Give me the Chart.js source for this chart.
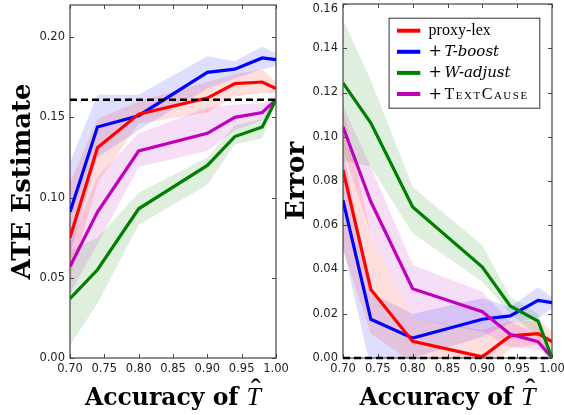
<!DOCTYPE html>
<html><head><meta charset="utf-8">
<script src="https://cdn.jsdelivr.net/npm/chart.js@4"></script>
<style>
html,body{margin:0;padding:0;background:#fff;}
#wrap{position:relative;width:564px;height:415px;overflow:hidden;background:#fff;}
.pane{position:absolute;top:0;height:415px;}
</style></head><body>
<div id="wrap">
  <div class="pane" style="left:0;width:300px"><canvas id="ate"></canvas></div>
  <div class="pane" style="left:282px;width:282px"><canvas id="err"></canvas></div>
</div>
<script>
// ---------- data ----------
const accuracy = [0.70, 0.74, 0.80, 0.90, 0.94, 0.98, 1.00];
const xTicks = [0.70, 0.75, 0.80, 0.85, 0.90, 0.95, 1.00];
const ateTicks = [0.00, 0.05, 0.10, 0.15, 0.20];
const errTicks = [0.00, 0.02, 0.04, 0.06, 0.08, 0.10, 0.12, 0.14, 0.16];

const seriesNames = ['proxy-lex', 'T-boost', 'W-adjust', 'TextCause'];
const seriesColors = ['#ff0000', '#0000ff', '#008000', '#bf00bf'];
const seriesOrder = [3, 4, 1, 2];

// ATE estimate (left panel)
const ateProxyLex      = [0.075, 0.131, 0.152, 0.162, 0.171, 0.172, 0.168];
const ateProxyLexLow   = [0.050, 0.109, 0.146, 0.153, 0.163, 0.165, 0.165];
const ateProxyLexHigh  = [0.109, 0.149, 0.160, 0.172, 0.177, 0.180, 0.172];
const ateTBoost        = [0.091, 0.144, 0.151, 0.178, 0.180, 0.187, 0.186];
const ateTBoostLow     = [0.065, 0.125, 0.142, 0.168, 0.174, 0.180, 0.182];
const ateTBoostHigh    = [0.122, 0.164, 0.164, 0.188, 0.185, 0.194, 0.190];
const ateWAdjust       = [0.037, 0.055, 0.093, 0.120, 0.138, 0.144, 0.161];
const ateWAdjustLow    = [0.008, 0.034, 0.083, 0.108, 0.133, 0.137, 0.160];
const ateWAdjustHigh   = [0.067, 0.075, 0.103, 0.125, 0.145, 0.149, 0.162];
const ateTextCause     = [0.057, 0.091, 0.129, 0.140, 0.150, 0.153, 0.161];
const ateTextCauseLow  = [0.040, 0.071, 0.119, 0.129, 0.142, 0.148, 0.160];
const ateTextCauseHigh = [0.071, 0.113, 0.140, 0.156, 0.158, 0.159, 0.162];
const trueAte = 0.161;

// Error (right panel)
const errProxyLex      = [0.085, 0.031, 0.0075, 0.0005, 0.010, 0.011, 0.0074];
const errProxyLexLow   = [0.049, 0.011, -0.002, -0.010, 0.0045, 0.006, 0.003];
const errProxyLexHigh  = [0.112, 0.056, 0.018, 0.0126, 0.0165, 0.017, 0.012];
const errTBoost        = [0.0713, 0.0175, 0.009, 0.0175, 0.019, 0.026, 0.025];
const errTBoostLow     = [0.050, -0.005, 0.000, 0.0096, 0.0158, 0.018, 0.0225];
const errTBoostHigh    = [0.095, 0.0293, 0.020, 0.027, 0.023, 0.032, 0.0275];
const errWAdjust       = [0.1243, 0.1062, 0.0683, 0.0411, 0.0235, 0.0167, 0.000];
const errWAdjustLow    = [0.0894, 0.0864, 0.0564, 0.0345, 0.020, 0.0096, 0.000];
const errWAdjustHigh   = [0.153, 0.1255, 0.0773, 0.051, 0.0277, 0.020, 0.002];
const errTextCause     = [0.1044, 0.0706, 0.0313, 0.0209, 0.0107, 0.0074, 0.000];
const errTextCauseLow  = [0.094, 0.0563, 0.018, 0.0119, 0.005, 0.0036, 0.000];
const errTextCauseHigh = [0.114, 0.0864, 0.042, 0.030, 0.0165, 0.0104, 0.000];
const zeroError = 0.0;

const ateTitle = 'ATE Estimate';
const errTitle = 'Error';
const xTitleMain = 'Accuracy of ';
const xTitleVar = 'T';
const xTitleHat = '\u02C6';
const legendPrefix = ['', '+', '+', '+'];
const legendStyle = ['roman', 'italic', 'italic', 'smallcaps'];

// ---------- helpers ----------
const TICK_FONT = { family: '"DejaVu Sans"', size: 11.5 };
function fmt(v) { return Number(v).toFixed(2); }
function pts(ys) { return accuracy.map((x, i) => ({ x: x, y: ys[i] })); }
function rgba(hex, a) {
  const n = parseInt(hex.slice(1), 16);
  return `rgba(${(n >> 16) & 255},${(n >> 8) & 255},${n & 255},${a})`;
}
function buildDatasets(means, lows, highs, refValue) {
  const ds = [];
  for (let k = 0; k < means.length; k++) {
    const base = ds.length;
    ds.push({ data: pts(lows[k]), borderWidth: 0, pointRadius: 0, fill: false, order: 20 });
    ds.push({ data: pts(highs[k]), borderWidth: 0, pointRadius: 0, fill: base,
              backgroundColor: rgba(seriesColors[k], 0.13), order: 20 });
  }
  for (let k = 0; k < means.length; k++) {
    ds.push({ label: seriesNames[k], data: pts(means[k]), borderColor: seriesColors[k],
              borderWidth: 3.2, pointRadius: 0, fill: false, order: seriesOrder[k],
              borderJoinStyle: 'miter' });
  }
  ds.push({ data: [{ x: xTicks[0], y: refValue }, { x: xTicks[xTicks.length - 1], y: refValue }],
            borderColor: '#000', borderWidth: 2.5, borderDash: [7, 4], pointRadius: 0,
            fill: false, order: 0, clip: 4 });
  return ds;
}

const frameTicks = {
  id: 'frameTicks',
  beforeDatasetsDraw(chart) {
    const { ctx, chartArea: a, scales: { x, y } } = chart;
    ctx.save();
    ctx.strokeStyle = '#444';
    ctx.lineWidth = 1;
    ctx.beginPath();
    x.ticks.forEach(t => {
      const px = Math.round(x.getPixelForValue(t.value)) + 0.5;
      ctx.moveTo(px, a.bottom); ctx.lineTo(px, a.bottom - 4);
      ctx.moveTo(px, a.top); ctx.lineTo(px, a.top + 4);
    });
    y.ticks.forEach(t => {
      const py = Math.round(y.getPixelForValue(t.value)) + 0.5;
      ctx.moveTo(a.left, py); ctx.lineTo(a.left + 4, py);
      ctx.moveTo(a.right, py); ctx.lineTo(a.right - 4, py);
    });
    ctx.stroke();
    ctx.lineWidth = 1.2;
    ctx.strokeRect(a.left, a.top, a.right - a.left, a.bottom - a.top);
    ctx.restore();
  }
};

// top y-tick label of the error panel: drawn slightly below its tick so it stays inside the canvas
const topLabelPlugin = {
  id: 'topLabelPlugin',
  afterDraw(chart) {
    const { ctx, scales: { y } } = chart;
    const v = y.max;
    ctx.save();
    ctx.font = `${TICK_FONT.size}px ${TICK_FONT.family}`;
    ctx.fillStyle = '#222';
    ctx.textAlign = 'right';
    ctx.textBaseline = 'middle';
    ctx.fillText(fmt(v), y.right - 5, y.getPixelForValue(v) + 5);
    ctx.restore();
  }
};

const xTitlePlugin = {
  id: 'xTitlePlugin',
  afterDraw(chart) {
    const { ctx, chartArea: a } = chart;
    ctx.save();
    ctx.fillStyle = '#000';
    ctx.textBaseline = 'alphabetic';
    const f1 = 'bold 23.5px "DejaVu Serif"';
    const f2 = 'italic 26px "Liberation Serif"';
    ctx.font = f1; const w1 = ctx.measureText(xTitleMain).width;
    ctx.font = f2; const w2 = ctx.measureText(xTitleVar).width;
    const x0 = (a.left + a.right) / 2 - (w1 + w2) / 2;
    const base = 405;
    ctx.font = f1; ctx.fillText(xTitleMain, x0, base);
    ctx.font = f2; ctx.fillText(xTitleVar, x0 + w1, base);
    ctx.font = '30px "Liberation Serif"';
    ctx.textAlign = 'center';
    ctx.fillText(xTitleHat, x0 + w1 + w2 / 2 + 2, base - 6);
    ctx.restore();
  }
};

const legendPlugin = {
  id: 'legendPlugin',
  afterDraw(chart) {
    const { ctx, chartArea: a } = chart;
    const bw = 150.7, bh = 90;
    const bx = a.right - 12.7 - bw, by = a.top + 13.7;
    ctx.save();
    ctx.fillStyle = '#fff';
    ctx.fillRect(bx, by, bw, bh);
    ctx.strokeStyle = '#333';
    ctx.lineWidth = 1;
    ctx.strokeRect(bx + 0.5, by + 0.5, bw, bh);
    for (let i = 0; i < seriesNames.length; i++) {
      const cy = by + 13 + i * 21.1;
      ctx.strokeStyle = seriesColors[i];
      ctx.lineWidth = 4;
      ctx.beginPath(); ctx.moveTo(bx + 8.4, cy); ctx.lineTo(bx + 31.7, cy); ctx.stroke();
      ctx.fillStyle = '#000';
      ctx.textBaseline = 'alphabetic';
      const tx = bx + 40, base = cy + 4.5;
      if (legendStyle[i] === 'roman') {
        ctx.font = '16px "Liberation Serif"';
        ctx.fillText(seriesNames[i], tx, base);
      } else {
        ctx.font = '16px "DejaVu Serif"';
        ctx.fillText(legendPrefix[i], tx, base);
        if (legendStyle[i] === 'italic') {
          ctx.font = 'italic 15px "DejaVu Serif"';
          ctx.fillText(seriesNames[i], tx + 16, base);
        } else {
          ctx.font = 'small-caps 16px "Liberation Serif"';
          ctx.letterSpacing = '1.5px';
          ctx.fillText(seriesNames[i], tx + 16, base);
          ctx.letterSpacing = '0px';
        }
      }
    }
    ctx.restore();
  }
};

function makeChart(id, datasets, yMax, yTicks, yTitle, yWidth, padTop, padRight, titlePad, hideTopLabel, extraPlugins) {
  return new Chart(document.getElementById(id), {
    type: 'line',
    data: { datasets },
    options: {
      responsive: true, maintainAspectRatio: false, animation: false,
      layout: { padding: { top: padTop, right: padRight, left: 0, bottom: 0 } },
      plugins: { legend: { display: false }, tooltip: { enabled: false } },
      scales: {
        x: {
          type: 'linear', min: xTicks[0], max: xTicks[xTicks.length - 1],
          afterBuildTicks: s => { s.ticks = xTicks.map(v => ({ value: v })); },
          ticks: { callback: v => fmt(v), font: TICK_FONT, color: '#222',
                   padding: 4, maxRotation: 0, autoSkip: false },
          grid: { display: false, drawTicks: false }, border: { display: false },
          afterFit: s => { s.height = 57; s.paddingLeft = 0; s.paddingRight = 0; }
        },
        y: {
          type: 'linear', min: 0, max: yMax,
          afterBuildTicks: s => { s.ticks = yTicks.map(v => ({ value: v })); },
          ticks: { callback: v => (hideTopLabel && Math.abs(v - yMax) < 1e-9) ? '' : fmt(v),
                   font: TICK_FONT, color: '#222', padding: 5 },
          grid: { display: false, drawTicks: false }, border: { display: false },
          title: { display: true, text: yTitle, color: '#000',
                   font: { family: '"DejaVu Serif"', size: 26, weight: 'bold' },
                   padding: { top: titlePad, bottom: 0 } },
          afterFit: s => { s.width = yWidth; s.paddingTop = 0; s.paddingBottom = 0; }
        }
      }
    },
    plugins: [frameTicks, xTitlePlugin].concat(extraPlugins)
  });
}

makeChart('ate',
  buildDatasets(
    [ateProxyLex, ateTBoost, ateWAdjust, ateTextCause],
    [ateProxyLexLow, ateTBoostLow, ateWAdjustLow, ateTextCauseLow],
    [ateProxyLexHigh, ateTBoostHigh, ateWAdjustHigh, ateTextCauseHigh], trueAte),
  0.22, ateTicks, ateTitle, 70, 5, 24, 8, false, []);

makeChart('err',
  buildDatasets(
    [errProxyLex, errTBoost, errWAdjust, errTextCause],
    [errProxyLexLow, errTBoostLow, errWAdjustLow, errTextCauseLow],
    [errProxyLexHigh, errTBoostHigh, errWAdjustHigh, errTextCauseHigh], zeroError),
  0.16, errTicks, errTitle, 61, 4, 12, 0, true, [legendPlugin, topLabelPlugin]);
</script>
</body></html>
